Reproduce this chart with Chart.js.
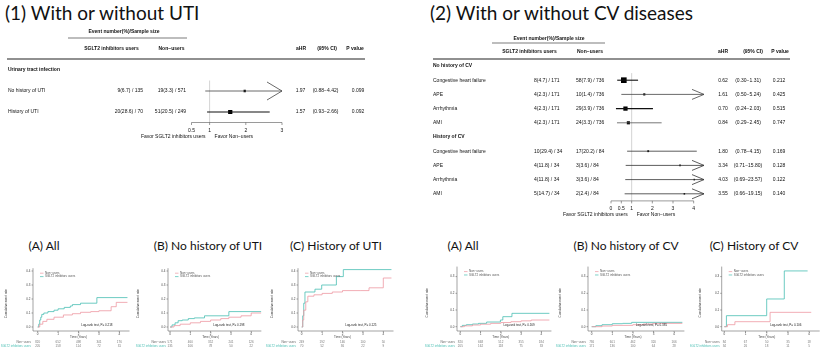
<!DOCTYPE html>
<html>
<head>
<meta charset="utf-8">
<script src="https://cdn.jsdelivr.net/npm/chart.js@4.4.1/dist/chart.umd.min.js"></script>
<style>
  body { margin: 0; background: #fff; }
  #page { position: relative; width: 824px; height: 358px; overflow: hidden; background: #fff; }
  .title { position: absolute; white-space: nowrap; color: #111; font-family: Lato, "Open Sans", sans-serif; line-height: 1; }
  .sub { text-align: center; width: 200px; font-size: 12px; top: 240px; }
  canvas { position: absolute; }
</style>
</head>
<body>
<div id="page">
  <div class="title" style="left:5px;top:3px;font-size:19px">(1) With or without UTI</div>
  <div class="title" style="left:430px;top:3px;font-size:19px">(2) With or without CV diseases</div>

  <div class="title sub" style="left:-56px">(A) All</div>
  <div class="title sub" style="left:108px">(B) No history of UTI</div>
  <div class="title sub" style="left:236px">(C) History of UTI</div>
  <div class="title sub" style="left:363px">(A) All</div>
  <div class="title sub" style="left:526px">(B) No history of CV</div>
  <div class="title sub" style="left:654px">(C) History of CV</div>

  <canvas id="forestUti" width="412" height="125" style="left:0;top:25px;width:412px;height:125px"></canvas>
  <canvas id="forestCv" width="412" height="200" style="left:412px;top:25px;width:412px;height:200px"></canvas>

  <canvas id="kmUtiAll" width="136" height="100" style="left:0;top:258px;width:136px;height:100px"></canvas>
  <canvas id="kmUtiNo" width="140" height="100" style="left:132px;top:258px;width:140px;height:100px"></canvas>
  <canvas id="kmUtiYes" width="146" height="100" style="left:266px;top:258px;width:146px;height:100px"></canvas>
  <canvas id="kmCvAll" width="140" height="100" style="left:418px;top:258px;width:140px;height:100px"></canvas>
  <canvas id="kmCvNo" width="134" height="100" style="left:552px;top:258px;width:134px;height:100px"></canvas>
  <canvas id="kmCvYes" width="134" height="100" style="left:690px;top:258px;width:134px;height:100px"></canvas>
</div>

<script>
// ---------- (1) forest: with or without UTI ----------
const utiGroups = ["Urinary tract infection"];
const utiLabels = ["No history of UTI", "History of UTI"];
const utiUsers = ["9(6.7) / 135", "20(28.6) / 70"];
const utiNonUsers = ["19(3.3) / 571", "51(20.5) / 249"];
const utiHR = [1.97, 1.57];
const utiLow = [0.88, 0.93];
const utiHigh = [4.42, 2.66];
const utiP = ["0.099", "0.092"];
const utiTicks = [0.5, 1, 2, 3];

// ---------- (2) forest: with or without CV diseases ----------
const cvGroups = ["No history of CV", "History of CV"];
const cvLabels = ["Congestive heart failure", "APE", "Arrhythmia", "AMI",
  "Congestive heart failure", "APE", "Arrhythmia", "AMI"];
const cvUsers = ["8(4.7) / 171", "4(2.3) / 171", "4(2.3) / 171", "4(2.3) / 171",
  "10(29.4) / 34", "4(11.8) / 34", "4(11.8) / 34", "5(14.7) / 34"];
const cvNonUsers = ["58(7.9) / 736", "10(1.4) / 736", "29(3.9) / 736", "24(3.3) / 736",
  "17(20.2) / 84", "3(3.6) / 84", "3(3.6) / 84", "2(2.4) / 84"];
const cvHR = [0.62, 1.61, 0.70, 0.84, 1.80, 3.34, 4.03, 3.55];
const cvLow = [0.30, 0.50, 0.24, 0.29, 0.78, 0.71, 0.69, 0.66];
const cvHigh = [1.31, 5.24, 2.03, 2.45, 4.15, 15.80, 23.57, 19.15];
const cvP = ["0.212", "0.425", "0.515", "0.747", "0.169", "0.128", "0.122", "0.140"];
const cvTicks = [0, 0.5, 1, 2, 3, 4];

// ---------- Kaplan-Meier (cumulative event rate) curves ----------
const kmYears = [0, 1, 2, 3, 4];
const kmTicksUti = [0, 0.1, 0.2, 0.3, 0.4];
const kmTicksCv = [0, 0.1, 0.2, 0.3];

// (1)(A) All
const utiAllNonT = [0, 0.1, 0.25, 0.45, 0.8, 1.26, 1.7, 2.1, 2.6, 3.0, 3.6, 3.85, 4.4];
const utiAllNonV = [0, 0.02, 0.04, 0.055, 0.07, 0.086, 0.095, 0.105, 0.11, 0.116, 0.145, 0.176, 0.176];
const utiAllUserT = [0, 0.05, 0.1, 0.15, 0.2, 0.3, 0.5, 0.8, 1.0, 1.3, 1.6, 1.7, 2.1, 2.9, 4.4];
const utiAllUserV = [0, 0.02, 0.05, 0.07, 0.09, 0.1, 0.11, 0.12, 0.13, 0.14, 0.15, 0.16, 0.17, 0.21, 0.21];
// (1)(B) No history of UTI
const utiNoNonT = [0, 0.2, 0.5, 1.0, 1.5, 2.0, 2.5, 2.9, 3.5, 4.0, 4.5];
const utiNoNonV = [0, 0.01, 0.02, 0.03, 0.04, 0.05, 0.06, 0.07, 0.08, 0.1, 0.1];
const utiNoUserT = [0, 0.1, 0.25, 0.4, 0.6, 0.9, 1.2, 1.7, 2.9, 4.5];
const utiNoUserV = [0, 0.015, 0.03, 0.045, 0.05, 0.06, 0.065, 0.08, 0.11, 0.11];
// (1)(C) History of UTI
const utiYesNonT = [0, 0.05, 0.1, 0.2, 0.3, 0.6, 1.0, 1.5, 2.0, 2.9, 3.3, 4.0, 4.4];
const utiYesNonV = [0, 0.05, 0.12, 0.18, 0.22, 0.23, 0.24, 0.25, 0.26, 0.26, 0.28, 0.35, 0.35];
const utiYesUserT = [0, 0.05, 0.1, 0.16, 0.65, 0.98, 1.7, 2.04, 4.4];
const utiYesUserV = [0, 0.08, 0.17, 0.25, 0.27, 0.3, 0.36, 0.41, 0.41];
// (2)(A) All
const cvAllNonT = [0, 0.2, 0.6, 1.0, 1.5, 2.0, 2.5, 3.0, 3.5, 4.4];
const cvAllNonV = [0, 0.005, 0.01, 0.015, 0.02, 0.025, 0.03, 0.035, 0.04, 0.04];
const cvAllUserT = [0, 0.1, 0.3, 0.6, 0.9, 1.3, 1.98, 2.1, 2.55, 4.4];
const cvAllUserV = [0, 0.008, 0.012, 0.016, 0.02, 0.028, 0.04, 0.06, 0.08, 0.08];
// (2)(B) No history of CV
const cvNoNonT = [0, 0.5, 1.0, 2.0, 2.5, 3.0, 4.4];
const cvNoNonV = [0, 0.004, 0.008, 0.012, 0.016, 0.02, 0.02];
const cvNoUserT = [0, 0.2, 0.5, 1.0, 1.5, 1.94, 4.4];
const cvNoUserV = [0, 0.006, 0.012, 0.018, 0.02, 0.026, 0.026];
// (2)(C) History of CV
const cvYesNonT = [0, 0.15, 0.5, 2.16, 4.1];
const cvYesNonV = [0, 0.012, 0.03, 0.086, 0.086];
const cvYesUserT = [0, 0.1, 2.0, 2.83, 3.93];
const cvYesUserV = [0, 0.066, 0.166, 0.334, 0.334];

// numbers at risk at 0..4 years
const riskUtiAllNon = [820, 652, 498, 341, 176];
const riskUtiAllUser = [205, 158, 114, 72, 31];
const riskUtiNoNon = [571, 460, 352, 241, 126];
const riskUtiNoUser = [135, 106, 78, 50, 22];
const riskUtiYesNon = [249, 192, 146, 100, 50];
const riskUtiYesUser = [70, 52, 36, 22, 9];
const riskCvAllNon = [820, 668, 512, 355, 184];
const riskCvAllUser = [205, 162, 118, 75, 33];
const riskCvNoNon = [736, 601, 462, 320, 166];
const riskCvNoUser = [171, 136, 100, 64, 28];
const riskCvYesNon = [84, 67, 50, 35, 18];
const riskCvYesUser = [34, 26, 18, 11, 5];

const logRankP = ["0.218", "0.198", "0.125", "0.169", "0.385", "0.106"];

// ---------- styles ----------
const pink = "rgb(238, 152, 162)";
const teal = "rgb(72, 190, 178)";
const txtFont = "5px 'Liberation Sans', Arial, sans-serif";
const boldFont = "bold 5px 'Liberation Sans', Arial, sans-serif";
const kmFont = "3px 'Liberation Sans', Arial, sans-serif";

Chart.defaults.animation = false;

// forest plot builder
function drawForest(id, d, lay) {
  const points = d.hr.map((v, i) => ({ x: v, y: d.rows[i] }));
  const ciSets = d.hr.map((v, i) => ({
    type: "line",
    data: [
      { x: Math.max(d.low[i], lay.xMin), y: d.rows[i] },
      { x: Math.min(d.high[i], lay.xMax), y: d.rows[i] },
    ],
    borderColor: lay.ciColor[i],
    borderWidth: lay.ciWidth[i],
    pointRadius: 0,
    showLine: true,
  }));

  const tablePlugin = {
    id: "forestTable",
    beforeDatasetsDraw(chart) {
      const { ctx, chartArea, scales } = chart;
      const x1 = scales.x.getPixelForValue(1);
      ctx.save();
      ctx.strokeStyle = "#c8c8c8";
      ctx.lineWidth = 0.8;
      ctx.beginPath();
      ctx.moveTo(x1, chartArea.top);
      ctx.lineTo(x1, chartArea.bottom);
      ctx.stroke();
      ctx.restore();
    },
    afterDraw(chart) {
      const { ctx, chartArea, scales } = chart;
      const xs = scales.x, ys = scales.y, h = lay.head;
      ctx.save();
      ctx.fillStyle = "#111";
      ctx.textBaseline = "middle";

      // header block
      ctx.font = boldFont;
      ctx.textAlign = "center";
      ctx.fillText("Event number(%)/Sample size", h.eventX, h.eventY);
      ctx.fillText("SGLT2 inhibitors users", h.usersX, h.rowY);
      ctx.fillText("Non\u2212users", h.nonX, h.rowY);
      ctx.fillText("aHR", h.hrX, h.rowY);
      ctx.fillText("(95% CI)", h.ciX, h.rowY);
      ctx.fillText("P value", h.pX, h.rowY);
      ctx.strokeStyle = "#444";
      ctx.lineWidth = 0.7;
      ctx.beginPath();
      ctx.moveTo(h.lineX0, h.lineY);
      ctx.lineTo(h.lineX1, h.lineY);
      ctx.stroke();
      ctx.strokeStyle = "#222";
      ctx.lineWidth = 1.2;
      ctx.beginPath();
      ctx.moveTo(h.ruleX0, h.ruleY);
      ctx.lineTo(h.ruleX1, h.ruleY);
      ctx.stroke();

      // group headers
      ctx.textAlign = "left";
      d.groups.forEach((g, i) => ctx.fillText(g, lay.labelX, ys.getPixelForValue(d.groupRows[i])));

      // rows
      ctx.font = txtFont;
      d.labels.forEach((lab, i) => {
        const y = ys.getPixelForValue(d.rows[i]);
        ctx.textAlign = "left";
        ctx.fillText(lab, lay.labelX, y);
        ctx.textAlign = lay.usersAlign;
        ctx.fillText(d.users[i], lay.usersX, y);
        ctx.textAlign = lay.nonAlign;
        ctx.fillText(d.nonUsers[i], lay.nonX, y);
        ctx.textAlign = "center";
        ctx.fillText(d.hr[i].toFixed(2), lay.hrX, y);
        ctx.fillText("(" + d.low[i].toFixed(2) + "\u2212" + d.high[i].toFixed(2) + ")", lay.ciX, y);
        ctx.fillText(d.p[i], lay.pX, y);

        // arrow when the upper limit runs off the axis
        if (d.high[i] > lay.xMax) {
          const xe = xs.getPixelForValue(lay.xMax);
          ctx.strokeStyle = lay.ciColor[i];
          ctx.lineWidth = 0.8;
          ctx.beginPath();
          ctx.moveTo(xe - lay.arrowLen, y - lay.arrowHalf);
          ctx.lineTo(xe, y);
          ctx.lineTo(xe - lay.arrowLen, y + lay.arrowHalf);
          ctx.stroke();
        }
      });

      // x axis
      const yb = chartArea.bottom;
      const t0 = xs.getPixelForValue(d.ticks[0]);
      const t1 = xs.getPixelForValue(d.ticks[d.ticks.length - 1]);
      ctx.strokeStyle = "#555";
      ctx.lineWidth = 0.6;
      ctx.beginPath();
      ctx.moveTo(t0, yb);
      ctx.lineTo(t1, yb);
      d.ticks.forEach((t) => {
        const px = xs.getPixelForValue(t);
        ctx.moveTo(px, yb);
        ctx.lineTo(px, yb + 2.5);
      });
      ctx.stroke();
      ctx.textAlign = "center";
      d.ticks.forEach((t) => ctx.fillText(String(t), xs.getPixelForValue(t), yb + 8));
      const x1 = xs.getPixelForValue(1);
      ctx.textAlign = "right";
      ctx.fillText("Favor SGLT2 inhibitors users", x1 - 4, yb + 14);
      ctx.textAlign = "left";
      ctx.fillText("Favor Non\u2212users", x1 + 5, yb + 14);
      ctx.restore();
    },
  };

  new Chart(document.getElementById(id), {
    type: "scatter",
    data: {
      datasets: [
        ...ciSets,
        {
          data: points,
          pointStyle: "rect",
          pointRadius: lay.box,
          backgroundColor: "#000",
          borderColor: "#000",
          borderWidth: 0,
        },
      ],
    },
    options: {
      responsive: false,
      events: [],
      layout: { padding: lay.padding },
      scales: {
        x: { type: "linear", min: lay.xMin, max: lay.xMax, display: false },
        y: { type: "linear", min: 0.5, max: lay.yMax, reverse: true, display: false },
      },
      plugins: { legend: { display: false }, tooltip: { enabled: false } },
    },
    plugins: [tablePlugin],
  });
}

drawForest(
  "forestUti",
  {
    groups: utiGroups, groupRows: [0], rows: [1, 2],
    labels: utiLabels, users: utiUsers, nonUsers: utiNonUsers,
    hr: utiHR, low: utiLow, high: utiHigh, p: utiP, ticks: utiTicks,
  },
  {
    padding: { left: 191.5, right: 130, top: 55.5, bottom: 27.5 },
    xMin: 0.5, xMax: 3, yMax: 2.5,
    labelX: 8, usersX: 143, usersAlign: "right", nonX: 186, nonAlign: "right",
    hrX: 300.5, ciX: 325.5, pX: 358,
    head: { eventX: 124, eventY: 7, lineX0: 68, lineX1: 187, lineY: 13, rowY: 24,
      usersX: 111.5, nonX: 171.5, hrX: 301, ciX: 327, pX: 355, ruleX0: 7, ruleX1: 365, ruleY: 34 },
    box: [1.6, 3],
    ciWidth: [0.8, 1.1],
    ciColor: ["#444", "#111"],
    arrowLen: 15, arrowHalf: 9,
  }
);

drawForest(
  "forestCv",
  {
    groups: cvGroups, groupRows: [0, 5], rows: [1, 2, 3, 4, 6, 7, 8, 9],
    labels: cvLabels, users: cvUsers, nonUsers: cvNonUsers,
    hr: cvHR, low: cvLow, high: cvHigh, p: cvP, ticks: cvTicks,
  },
  {
    padding: { left: 199, right: 120, top: 48.1, bottom: 24.1 },
    xMin: 0, xMax: 4.5, yMax: 9.5,
    labelX: 21, usersX: 122, usersAlign: "left", nonX: 164, nonAlign: "left",
    hrX: 311, ciX: 336, pX: 367,
    head: { eventX: 137, eventY: 14, lineX0: 80, lineX1: 193, lineY: 18, rowY: 27,
      usersX: 117.5, nonX: 178, hrX: 311, ciX: 341, pX: 368, ruleX0: 21, ruleX1: 378, ruleY: 34 },
    box: [4, 1.5, 3, 2.2, 1.3, 1.1, 1.1, 1.1],
    ciWidth: [1.1, 0.8, 1.1, 0.8, 0.8, 0.8, 0.8, 0.8],
    ciColor: ["#111", "#444", "#111", "#555", "#333", "#333", "#333", "#333"],
    arrowLen: 12, arrowHalf: 5,
  }
);

// Kaplan-Meier panel builder
function drawKM(id, curves, risk, pText, yTicks, geo) {
  const canvas = document.getElementById(id);
  const cx = parseFloat(canvas.style.left), cy = parseFloat(canvas.style.top);
  const cw = canvas.width, ch = canvas.height;
  const xMin = -(geo.zeroX - geo.axisX) / geo.pxYear;
  const xMax = 4.5;
  const yMin = -(geo.axisY - geo.zeroY) / geo.pxUnit;
  const padding = {
    left: geo.axisX - cx,
    right: cx + cw - (geo.zeroX + xMax * geo.pxYear),
    top: geo.zeroY - geo.yMax * geo.pxUnit - cy,
    bottom: cy + ch - geo.axisY,
  };

  const kmPlugin = {
    id: "kmDecor",
    afterDraw(chart) {
      const { ctx, chartArea, scales } = chart;
      const xs = scales.x, ys = scales.y;
      const l = chartArea.left, b = chartArea.bottom;
      ctx.save();
      ctx.strokeStyle = "#666";
      ctx.lineWidth = 0.6;
      ctx.beginPath();
      ctx.moveTo(l, chartArea.top);
      ctx.lineTo(l, b);
      ctx.lineTo(xs.getPixelForValue(xMax), b);
      yTicks.forEach((v) => {
        const py = ys.getPixelForValue(v);
        ctx.moveTo(l - 1.5, py);
        ctx.lineTo(l, py);
      });
      kmYears.forEach((t) => {
        const px = xs.getPixelForValue(t);
        ctx.moveTo(px, b);
        ctx.lineTo(px, b + 1.5);
      });
      ctx.stroke();

      ctx.font = kmFont;
      ctx.fillStyle = "#444";
      ctx.textBaseline = "middle";
      ctx.textAlign = "right";
      yTicks.forEach((v) => ctx.fillText(v.toFixed(1), l - 2.5, ys.getPixelForValue(v)));
      ctx.textAlign = "center";
      kmYears.forEach((t) => ctx.fillText(String(t), xs.getPixelForValue(t), b + 3.2));
      ctx.fillText("Time (Years)", xs.getPixelForValue(2), b + 6.5);

      // y axis title
      ctx.save();
      ctx.translate(geo.yTitleX - cx, (chartArea.top + b) / 2 + 4);
      ctx.rotate(-Math.PI / 2);
      ctx.fillText("Cumulative event rate", 0, 0);
      ctx.restore();

      // legend
      const lx = l + 7, ly = chartArea.top + 5;
      [["Non\u2212users", pink], ["SGLT2 inhibitors users", teal]].forEach(([name, col], i) => {
        ctx.strokeStyle = col;
        ctx.lineWidth = 0.7;
        ctx.beginPath();
        ctx.moveTo(lx, ly + i * 3.4);
        ctx.lineTo(lx + 3.5, ly + i * 3.4);
        ctx.stroke();
        ctx.textAlign = "left";
        ctx.fillStyle = "#555";
        ctx.fillText(name, lx + 5, ly + i * 3.4);
      });

      // log-rank text
      ctx.textAlign = "center";
      ctx.fillStyle = "#222";
      ctx.fillText("Log-rank test, P= " + pText, xs.getPixelForValue(2.9), b - 6);

      // numbers at risk
      const rows = [["Non\u2212users", risk[0], "#666"], ["SGLT2 inhibitors users", risk[1], teal]];
      rows.forEach(([name, vals, col], i) => {
        const ry = b + 11 + i * 4;
        ctx.fillStyle = col;
        ctx.textAlign = "right";
        ctx.fillText(name, l - 2, ry);
        ctx.textAlign = "center";
        ctx.fillStyle = "#777";
        vals.forEach((n, k) => ctx.fillText(String(n), xs.getPixelForValue(kmYears[k]), ry));
      });
      ctx.restore();
    },
  };

  new Chart(canvas, {
    type: "line",
    data: {
      datasets: [
        {
          label: "Non-users",
          data: curves[0].map((t, i) => ({ x: t, y: curves[1][i] })),
          borderColor: pink,
          borderWidth: 0.8,
          stepped: true,
          pointRadius: 0,
        },
        {
          label: "SGLT2 inhibitors users",
          data: curves[2].map((t, i) => ({ x: t, y: curves[3][i] })),
          borderColor: teal,
          borderWidth: 0.8,
          stepped: true,
          pointRadius: 0,
        },
      ],
    },
    options: {
      responsive: false,
      events: [],
      layout: { padding },
      scales: {
        x: { type: "linear", min: xMin, max: xMax, display: false },
        y: { type: "linear", min: yMin, max: geo.yMax, display: false },
      },
      plugins: { legend: { display: false }, tooltip: { enabled: false } },
    },
    plugins: [kmPlugin],
  });
}

const utiGeo = { zeroY: 327, pxUnit: 140, axisY: 331, yMax: 0.42 };
const cvGeo = { zeroY: 326.7, pxUnit: 167, axisY: 331, yMax: 0.36 };

drawKM("kmUtiAll", [utiAllNonT, utiAllNonV, utiAllUserT, utiAllUserV], [riskUtiAllNon, riskUtiAllUser],
  logRankP[0], kmTicksUti, { ...utiGeo, axisX: 33, zeroX: 37.7, pxYear: 20.4, yTitleX: 6 });
drawKM("kmUtiNo", [utiNoNonT, utiNoNonV, utiNoUserT, utiNoUserV], [riskUtiNoNon, riskUtiNoUser],
  logRankP[1], kmTicksUti, { ...utiGeo, axisX: 168, zeroX: 170, pxYear: 20.3, yTitleX: 138 });
drawKM("kmUtiYes", [utiYesNonT, utiYesNonV, utiYesUserT, utiYesUserV], [riskUtiYesNon, riskUtiYesUser],
  logRankP[2], kmTicksUti, { ...utiGeo, axisX: 298, zeroX: 301.7, pxYear: 20.4, yTitleX: 272 });
drawKM("kmCvAll", [cvAllNonT, cvAllNonV, cvAllUserT, cvAllUserV], [riskCvAllNon, riskCvAllUser],
  logRankP[3], kmTicksCv, { ...cvGeo, axisX: 457, zeroX: 460.3, pxYear: 20.25, yTitleX: 427 });
drawKM("kmCvNo", [cvNoNonT, cvNoNonV, cvNoUserT, cvNoUserV], [riskCvNoNon, riskCvNoUser],
  logRankP[4], kmTicksCv, { ...cvGeo, axisX: 588, zeroX: 591.7, pxYear: 20.6, yTitleX: 560 });
drawKM("kmCvYes", [cvYesNonT, cvYesNonV, cvYesUserT, cvYesUserV], [riskCvYesNon, riskCvYesUser],
  logRankP[5], kmTicksCv, { ...cvGeo, axisX: 721.7, zeroX: 724.3, pxYear: 21.2, yTitleX: 700 });
</script>
</body>
</html>
